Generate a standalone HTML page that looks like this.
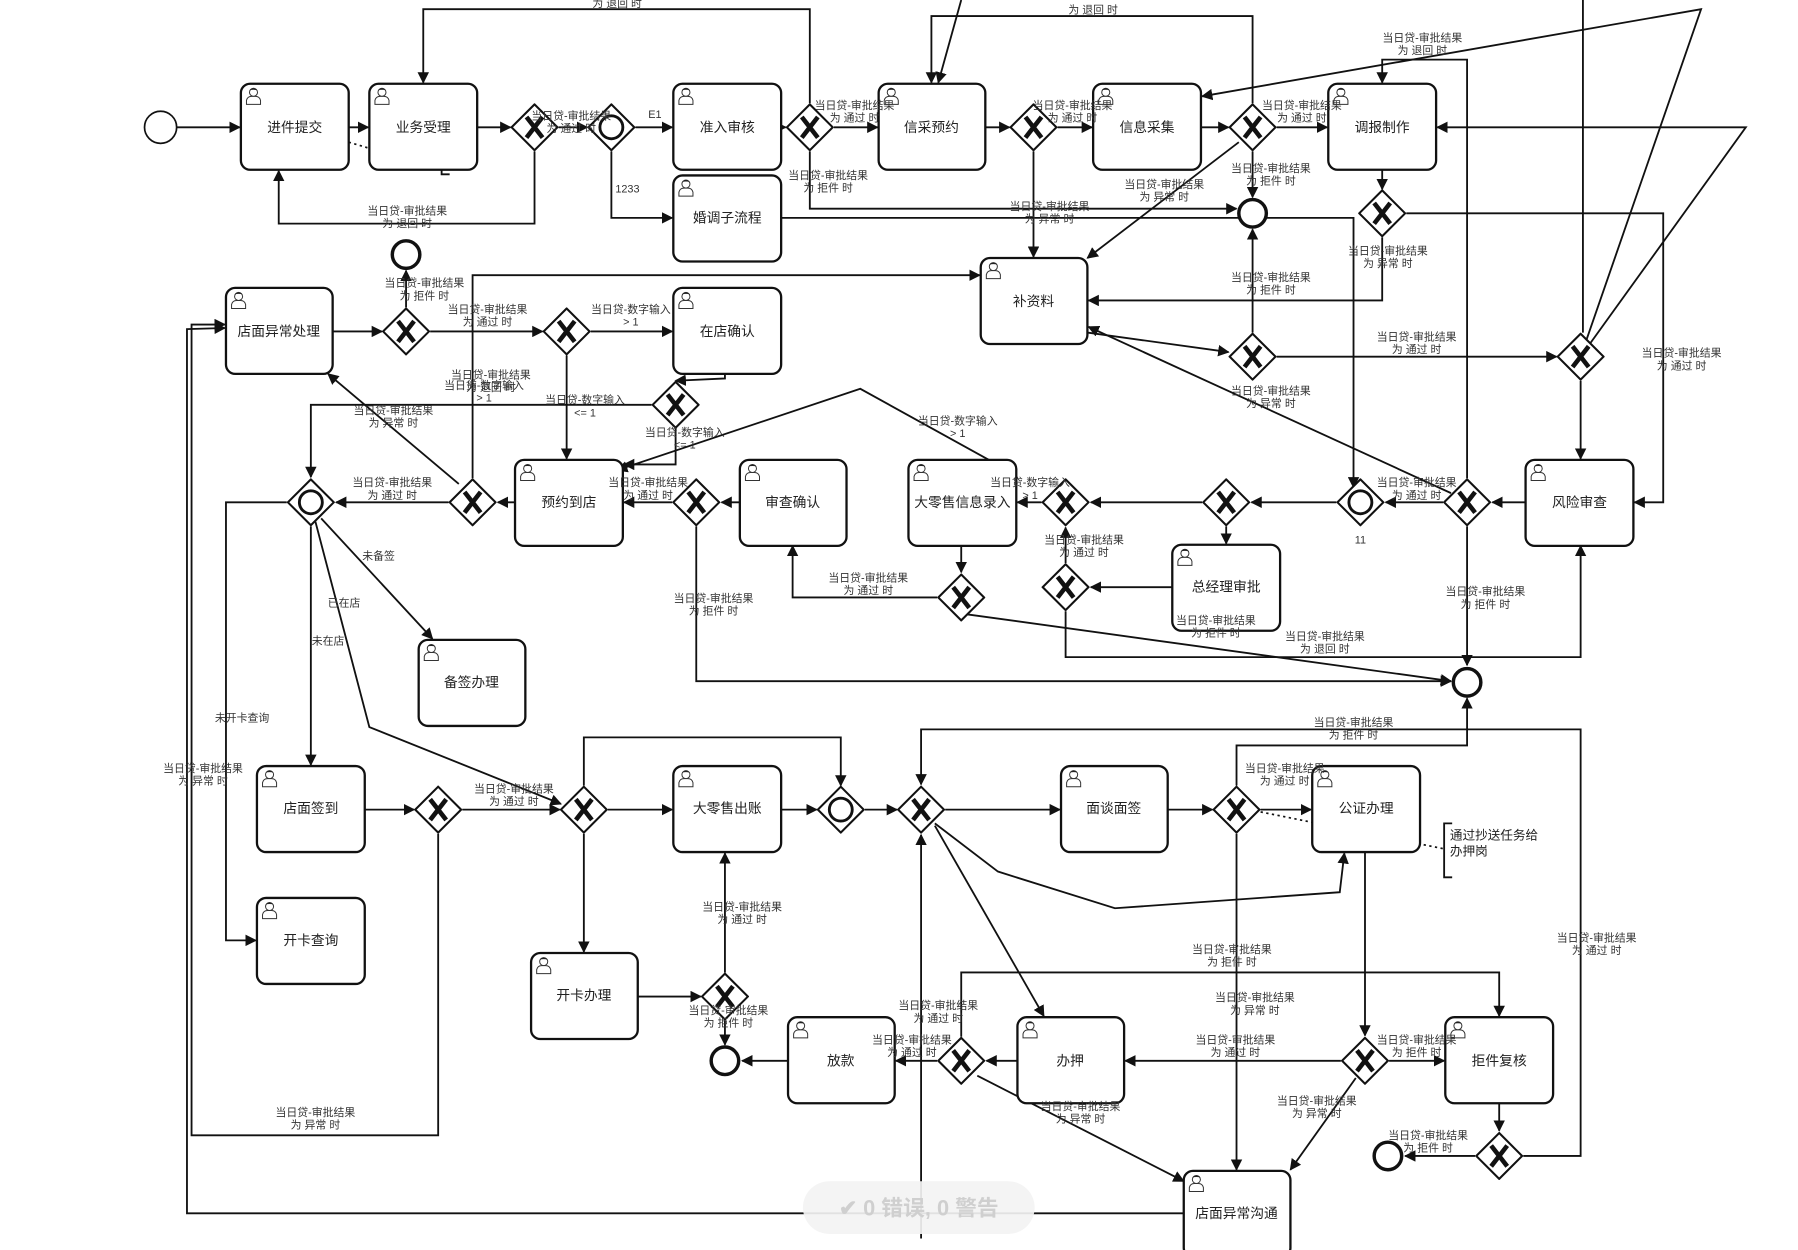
<!DOCTYPE html>
<html><head><meta charset="utf-8"><style>
html,body{margin:0;padding:0;background:#fff;}
svg{display:block;}
text{font-family:"Liberation Sans","Noto Sans CJK SC",sans-serif;fill:#222;}
.t{font-size:12px;text-anchor:middle;}
.l{font-size:9.5px;text-anchor:middle;fill:#333;}
.e{fill:none;stroke:#111;stroke-width:1.6;marker-end:url(#a);}
.n{fill:none;stroke:#111;stroke-width:1.6;}
.task{fill:#fff;stroke:#111;stroke-width:2;}
.gw{fill:#fff;stroke:#111;stroke-width:1.8;}
</style></head><body>
<svg width="1798" height="1250" viewBox="0 0 1567.5 1090" preserveAspectRatio="none" xmlns="http://www.w3.org/2000/svg">
<defs>
<marker id="a" markerWidth="10" markerHeight="10" refX="9" refY="5" orient="auto" markerUnits="userSpaceOnUse"><path d="M0,0 L10,5 L0,10 z" fill="#111"/></marker>
<symbol id="p" viewBox="0 0 16 18"><circle cx="8" cy="5" r="4" fill="#fff" stroke="#333" stroke-width="1"/><path d="M4,3 Q8,-1 12,3 Q8,2 4,3z" fill="#222"/><path d="M1,17 L1,13 Q2,9 6,9 L10,9 Q14,9 15,13 L15,17 z" fill="#fff" stroke="#333" stroke-width="1"/></symbol>
<symbol id="gx" viewBox="-21 -21 42 42"><path d="M0,-20 L20,0 L0,20 L-20,0 z" fill="#fff" stroke="#111" stroke-width="1.8"/><path d="M-7,-9 L7,9 M7,-9 L-7,9" stroke="#111" stroke-width="4"/></symbol>
<symbol id="go" viewBox="-21 -21 42 42"><path d="M0,-20 L20,0 L0,20 L-20,0 z" fill="#fff" stroke="#111" stroke-width="1.8"/><circle r="10" fill="none" stroke="#111" stroke-width="2.5"/></symbol>
</defs>

<g>
<path class="e" d="M154,111 L209,111"/>
<path class="e" d="M304,111 L321,111"/>
<path class="e" d="M416,111 L445,111"/>
<path class="e" d="M487,111 L512,111"/>
<path class="e" d="M466,132 L466,195 L243,195 L243,149"/>
<path d="M304,124 L385,148" stroke="#111" stroke-width="1.5" stroke-dasharray="2,3" fill="none"/>
<path class="n" d="M392,136 L385,136 L385,152 L392,152" />
<path class="e" d="M554,111 L586,111"/>
<path class="e" d="M533,132 L533,190 L586,190"/>
<path class="e" d="M681,111 L685,111"/>
<path class="e" d="M727,111 L765,111"/>
<path class="e" d="M706,90 L706,8 L369,8 L369,72"/>
<path class="e" d="M706,132 L706,182 L1078,182"/>
<path class="e" d="M681,190 L1180,190 L1180,425"/>
<path class="e" d="M859,111 L880,111"/>
<path class="e" d="M922,111 L952,111"/>
<path class="e" d="M901,132 L901,224"/>
<path class="e" d="M1047,111 L1071,111"/>
<path class="e" d="M1113,111 L1157,111"/>
<path class="e" d="M1092,90 L1092,14 L812,14 L812,72"/>
<path class="e" d="M838,0 L818,72"/>
<path class="e" d="M1092,132 L1092,172"/>
<path class="e" d="M1080,124 L948,225"/>
<path class="e" d="M1205,148 L1205,165"/>
<path class="e" d="M1205,207 L1205,262 L949,262"/>
<path class="e" d="M1226,186 L1450,186 L1450,438 L1425,438"/>
<path class="e" d="M1279,417 L1279,52 L1205,52 L1205,72"/>
<path class="n" d="M1380,0 L1380,290"/>
<path class="e" d="M1378,311 L1483,8 L1048,84"/>
<path class="e" d="M1378,311 L1522,111 L1253,111"/>
<path class="e" d="M948,290 L1071,307"/>
<path class="e" d="M1092,290 L1092,200"/>
<path class="e" d="M1113,311 L1357,311"/>
<path class="e" d="M1378,332 L1378,400"/>
<path class="e" d="M1265,430 L949,285"/>
<path class="e" d="M1330,438 L1301,438"/>
<path class="e" d="M1258,438 L1208,438"/>
<path class="e" d="M1165,438 L1091,438"/>
<path class="e" d="M1048,438 L951,438"/>
<path class="e" d="M1069,459 L1069,474"/>
<path class="e" d="M1022,512 L951,512"/>
<path class="e" d="M929,491 L929,460"/>
<path class="e" d="M929,533 L929,573 L1378,573 L1378,476"/>
<path class="e" d="M1279,459 L1279,580"/>
<path class="e" d="M908,438 L887,438"/>
<path class="e" d="M838,475 L838,499"/>
<path class="e" d="M817,521 L691,521 L691,476"/>
<path class="e" d="M838,535 L1265,594"/>
<path class="e" d="M607,459 L607,594 L1265,594"/>
<path class="e" d="M862,401 L750,339 L538,410"/>
<path class="e" d="M645,438 L629,438"/>
<path class="e" d="M586,438 L544,438"/>
<path class="e" d="M632,325 L632,330 L589,332"/>
<path class="e" d="M589,374 L589,405 L544,405"/>
<path class="e" d="M568,353 L271,353 L271,416"/>
<path class="e" d="M290,289 L333,289"/>
<path class="e" d="M354,268 L354,236"/>
<path class="e" d="M375,289 L473,289"/>
<path class="e" d="M515,289 L586,289"/>
<path class="e" d="M494,310 L494,400"/>
<path class="e" d="M449,438 L434,438"/>
<path class="e" d="M391,438 L293,438"/>
<path class="e" d="M412,417 L412,240 L854,240"/>
<path class="e" d="M400,422 L286,326"/>
<path class="e" d="M271,459 L271,667"/>
<path class="e" d="M280,452 L377,557"/>
<path class="e" d="M275,455 L322,634 L489,701"/>
<path class="e" d="M250,438 L197,438 L197,820 L223,820"/>
<path class="e" d="M318,706 L361,706"/>
<path class="e" d="M403,706 L488,706"/>
<path class="e" d="M382,727 L382,990 L167,990 L167,283 L196,283"/>
<path class="e" d="M1032,1058 L163,1058 L163,287 L196,286"/>
<path class="e" d="M530,706 L586,706"/>
<path class="e" d="M509,727 L509,830"/>
<path class="e" d="M509,685 L509,643 L733,643 L733,685"/>
<path class="e" d="M681,706 L712,706"/>
<path class="e" d="M754,706 L782,706"/>
<path class="e" d="M556,869 L611,869"/>
<path class="e" d="M632,848 L632,744"/>
<path class="e" d="M632,890 L632,911"/>
<path class="e" d="M687,925 L647,925"/>
<path class="e" d="M817,925 L781,925"/>
<path class="e" d="M838,904 L838,848 L1307,848 L1307,886"/>
<path class="e" d="M887,925 L860,925"/>
<path class="e" d="M852,938 L1032,1030"/>
<path class="e" d="M824,706 L924,706"/>
<path class="e" d="M803,1080 L803,728"/>
<path class="e" d="M1328,1008 L1378,1008 L1378,636 L803,636 L803,684"/>
<path class="e" d="M815,720 L910,886"/>
<path class="e" d="M815,718 L870,760 L972,792 L1168,778 L1172,744"/>
<path class="e" d="M1018,706 L1057,706"/>
<path class="e" d="M1099,706 L1143,706"/>
<path class="e" d="M1078,685 L1078,650 L1279,650 L1279,609"/>
<path class="e" d="M1078,727 L1078,1020"/>
<path d="M1099,708 L1258,740" stroke="#111" stroke-width="1.5" stroke-dasharray="2,3" fill="none"/>
<path class="n" d="M1266,718 L1259,718 L1259,765 L1266,765"/>
<path class="e" d="M1190,743 L1190,903"/>
<path class="e" d="M1169,925 L981,925"/>
<path class="e" d="M1211,925 L1259,925"/>
<path class="e" d="M1182,940 L1125,1020"/>
<path class="e" d="M1307,962 L1307,986"/>
<path class="e" d="M1286,1008 L1225,1008"/>
</g>

<g>
<rect class="task" x="210" y="73" width="94" height="75" rx="8"/><use href="#p" x="214" y="76" width="14" height="16"/><text class="t" x="257" y="115">进件提交</text>
<rect class="task" x="322" y="73" width="94" height="75" rx="8"/><use href="#p" x="326" y="76" width="14" height="16"/><text class="t" x="369" y="115">业务受理</text>
<rect class="task" x="587" y="73" width="94" height="75" rx="8"/><use href="#p" x="591" y="76" width="14" height="16"/><text class="t" x="634" y="115">准入审核</text>
<rect class="task" x="587" y="153" width="94" height="75" rx="8"/><use href="#p" x="591" y="156" width="14" height="16"/><text class="t" x="634" y="194">婚调子流程</text>
<rect class="task" x="766" y="73" width="93" height="75" rx="8"/><use href="#p" x="770" y="76" width="14" height="16"/><text class="t" x="812" y="115">信采预约</text>
<rect class="task" x="953" y="73" width="94" height="75" rx="8"/><use href="#p" x="957" y="76" width="14" height="16"/><text class="t" x="1000" y="115">信息采集</text>
<rect class="task" x="1158" y="73" width="94" height="75" rx="8"/><use href="#p" x="1162" y="76" width="14" height="16"/><text class="t" x="1205" y="115">调报制作</text>
<rect class="task" x="855" y="225" width="93" height="75" rx="8"/><use href="#p" x="859" y="228" width="14" height="16"/><text class="t" x="901" y="267">补资料</text>
<rect class="task" x="197" y="251" width="93" height="75" rx="8"/><use href="#p" x="201" y="254" width="14" height="16"/><text class="t" x="243" y="293">店面异常处理</text>
<rect class="task" x="587" y="251" width="94" height="75" rx="8"/><use href="#p" x="591" y="254" width="14" height="16"/><text class="t" x="634" y="293">在店确认</text>
<rect class="task" x="449" y="401" width="94" height="75" rx="8"/><use href="#p" x="453" y="404" width="14" height="16"/><text class="t" x="496" y="442">预约到店</text>
<rect class="task" x="645" y="401" width="93" height="75" rx="8"/><use href="#p" x="649" y="404" width="14" height="16"/><text class="t" x="691" y="442">审查确认</text>
<rect class="task" x="792" y="401" width="94" height="75" rx="8"/><use href="#p" x="796" y="404" width="14" height="16"/><text class="t" x="839" y="442">大零售信息录入</text>
<rect class="task" x="1330" y="401" width="94" height="75" rx="8"/><use href="#p" x="1334" y="404" width="14" height="16"/><text class="t" x="1377" y="442">风险审查</text>
<rect class="task" x="1022" y="475" width="94" height="75" rx="8"/><use href="#p" x="1026" y="478" width="14" height="16"/><text class="t" x="1069" y="516">总经理审批</text>
<rect class="task" x="365" y="558" width="93" height="75" rx="8"/><use href="#p" x="369" y="561" width="14" height="16"/><text class="t" x="411" y="599">备签办理</text>
<rect class="task" x="224" y="668" width="94" height="75" rx="8"/><use href="#p" x="228" y="671" width="14" height="16"/><text class="t" x="271" y="709">店面签到</text>
<rect class="task" x="224" y="783" width="94" height="75" rx="8"/><use href="#p" x="228" y="786" width="14" height="16"/><text class="t" x="271" y="824">开卡查询</text>
<rect class="task" x="587" y="668" width="94" height="75" rx="8"/><use href="#p" x="591" y="671" width="14" height="16"/><text class="t" x="634" y="709">大零售出账</text>
<rect class="task" x="925" y="668" width="93" height="75" rx="8"/><use href="#p" x="929" y="671" width="14" height="16"/><text class="t" x="971" y="709">面谈面签</text>
<rect class="task" x="1144" y="668" width="94" height="75" rx="8"/><use href="#p" x="1148" y="671" width="14" height="16"/><text class="t" x="1191" y="709">公证办理</text>
<rect class="task" x="463" y="831" width="93" height="75" rx="8"/><use href="#p" x="467" y="834" width="14" height="16"/><text class="t" x="509" y="872">开卡办理</text>
<rect class="task" x="687" y="887" width="93" height="75" rx="8"/><use href="#p" x="691" y="890" width="14" height="16"/><text class="t" x="733" y="929">放款</text>
<rect class="task" x="887" y="887" width="93" height="75" rx="8"/><use href="#p" x="891" y="890" width="14" height="16"/><text class="t" x="933" y="929">办押</text>
<rect class="task" x="1260" y="887" width="94" height="75" rx="8"/><use href="#p" x="1264" y="890" width="14" height="16"/><text class="t" x="1307" y="929">拒件复核</text>
<rect class="task" x="1032" y="1021" width="93" height="75" rx="8"/><use href="#p" x="1036" y="1024" width="14" height="16"/><text class="t" x="1078" y="1062">店面异常沟通</text>
</g>

<g>
<use href="#gx" x="445" y="90" width="42" height="42"/>
<use href="#go" x="512" y="90" width="42" height="42"/>
<use href="#gx" x="685" y="90" width="42" height="42"/>
<use href="#gx" x="880" y="90" width="42" height="42"/>
<use href="#gx" x="1071" y="90" width="42" height="42"/>
<use href="#gx" x="1184" y="165" width="42" height="42"/>
<use href="#gx" x="333" y="268" width="42" height="42"/>
<use href="#gx" x="473" y="268" width="42" height="42"/>
<use href="#gx" x="568" y="332" width="42" height="42"/>
<use href="#gx" x="391" y="417" width="42" height="42"/>
<use href="#go" x="250" y="417" width="42" height="42"/>
<use href="#gx" x="586" y="417" width="42" height="42"/>
<use href="#gx" x="908" y="417" width="42" height="42"/>
<use href="#gx" x="1048" y="417" width="42" height="42"/>
<use href="#go" x="1165" y="417" width="42" height="42"/>
<use href="#gx" x="1258" y="417" width="42" height="42"/>
<use href="#gx" x="1071" y="290" width="42" height="42"/>
<use href="#gx" x="1357" y="290" width="42" height="42"/>
<use href="#gx" x="817" y="500" width="42" height="42"/>
<use href="#gx" x="908" y="491" width="42" height="42"/>
<use href="#gx" x="361" y="685" width="42" height="42"/>
<use href="#gx" x="488" y="685" width="42" height="42"/>
<use href="#go" x="712" y="685" width="42" height="42"/>
<use href="#gx" x="782" y="685" width="42" height="42"/>
<use href="#gx" x="1057" y="685" width="42" height="42"/>
<use href="#gx" x="611" y="848" width="42" height="42"/>
<use href="#gx" x="817" y="904" width="42" height="42"/>
<use href="#gx" x="1169" y="904" width="42" height="42"/>
<use href="#gx" x="1286" y="987" width="42" height="42"/>
</g>

<g fill="#fff" stroke="#111">
<circle cx="140" cy="111" r="14" stroke-width="1.5"/>
<circle cx="354" cy="222" r="12" stroke-width="3"/>
<circle cx="1092" cy="186" r="12" stroke-width="3"/>
<circle cx="1279" cy="595" r="12" stroke-width="3"/>
<circle cx="632" cy="925" r="12" stroke-width="3"/>
<circle cx="1210" cy="1008" r="12" stroke-width="3"/>
</g>

<g>
<text class="l" x="498" y="104">当日贷-审批结果<tspan x="498" dy="11">为 通过 时</tspan></text>
<text class="l" x="355" y="187">当日贷-审批结果<tspan x="355" dy="11">为 退回 时</tspan></text>
<text class="l" x="538" y="6">为 退回 时</text>
<text class="l" x="571" y="103">E1</text>
<text class="l" x="547" y="168">1233</text>
<text class="l" x="745" y="95">当日贷-审批结果<tspan x="745" dy="11">为 通过 时</tspan></text>
<text class="l" x="722" y="156">当日贷-审批结果<tspan x="722" dy="11">为 拒件 时</tspan></text>
<text class="l" x="935" y="95">当日贷-审批结果<tspan x="935" dy="11">为 通过 时</tspan></text>
<text class="l" x="953" y="12">为 退回 时</text>
<text class="l" x="915" y="183">当日贷-审批结果<tspan x="915" dy="11">为 异常 时</tspan></text>
<text class="l" x="1135" y="95">当日贷-审批结果<tspan x="1135" dy="11">为 通过 时</tspan></text>
<text class="l" x="1240" y="36">当日贷-审批结果<tspan x="1240" dy="11">为 退回 时</tspan></text>
<text class="l" x="1015" y="164">当日贷-审批结果<tspan x="1015" dy="11">为 异常 时</tspan></text>
<text class="l" x="1108" y="150">当日贷-审批结果<tspan x="1108" dy="11">为 拒件 时</tspan></text>
<text class="l" x="1210" y="222">当日贷-审批结果<tspan x="1210" dy="11">为 异常 时</tspan></text>
<text class="l" x="1108" y="245">当日贷-审批结果<tspan x="1108" dy="11">为 拒件 时</tspan></text>
<text class="l" x="1235" y="297">当日贷-审批结果<tspan x="1235" dy="11">为 通过 时</tspan></text>
<text class="l" x="1466" y="311">当日贷-审批结果<tspan x="1466" dy="11">为 通过 时</tspan></text>
<text class="l" x="1108" y="344">当日贷-审批结果<tspan x="1108" dy="11">为 异常 时</tspan></text>
<text class="l" x="1235" y="424">当日贷-审批结果<tspan x="1235" dy="11">为 通过 时</tspan></text>
<text class="l" x="1186" y="474">11</text>
<text class="l" x="1295" y="519">当日贷-审批结果<tspan x="1295" dy="11">为 拒件 时</tspan></text>
<text class="l" x="898" y="424">当日贷-数字输入<tspan x="898" dy="11">&gt; 1</tspan></text>
<text class="l" x="945" y="474">当日贷-审批结果<tspan x="945" dy="11">为 通过 时</tspan></text>
<text class="l" x="1060" y="544">当日贷-审批结果<tspan x="1060" dy="11">为 拒件 时</tspan></text>
<text class="l" x="1155" y="558">当日贷-审批结果<tspan x="1155" dy="11">为 退回 时</tspan></text>
<text class="l" x="757" y="507">当日贷-审批结果<tspan x="757" dy="11">为 通过 时</tspan></text>
<text class="l" x="622" y="525">当日贷-审批结果<tspan x="622" dy="11">为 拒件 时</tspan></text>
<text class="l" x="835" y="370">当日贷-数字输入<tspan x="835" dy="11">&gt; 1</tspan></text>
<text class="l" x="565" y="424">当日贷-审批结果<tspan x="565" dy="11">为 通过 时</tspan></text>
<text class="l" x="597" y="380">当日贷-数字输入<tspan x="597" dy="11">&lt;= 1</tspan></text>
<text class="l" x="510" y="352">当日贷-数字输入<tspan x="510" dy="11">&lt;= 1</tspan></text>
<text class="l" x="370" y="250">当日贷-审批结果<tspan x="370" dy="11">为 拒件 时</tspan></text>
<text class="l" x="425" y="273">当日贷-审批结果<tspan x="425" dy="11">为 通过 时</tspan></text>
<text class="l" x="550" y="273">当日贷-数字输入<tspan x="550" dy="11">&gt; 1</tspan></text>
<text class="l" x="428" y="330">当日贷-审批结果<tspan x="428" dy="11">为 退回 时</tspan></text>
<text class="l" x="422" y="339">当日贷-数字输入<tspan x="422" dy="11">&gt; 1</tspan></text>
<text class="l" x="343" y="361">当日贷-审批结果<tspan x="343" dy="11">为 异常 时</tspan></text>
<text class="l" x="342" y="424">当日贷-审批结果<tspan x="342" dy="11">为 通过 时</tspan></text>
<text class="l" x="330" y="488">未备签</text>
<text class="l" x="300" y="529">已在店</text>
<text class="l" x="286" y="562">未在店</text>
<text class="l" x="211" y="629">未开卡查询</text>
<text class="l" x="177" y="673">当日贷-审批结果<tspan x="177" dy="11">为 异常 时</tspan></text>
<text class="l" x="448" y="691">当日贷-审批结果<tspan x="448" dy="11">为 通过 时</tspan></text>
<text class="l" x="275" y="973">当日贷-审批结果<tspan x="275" dy="11">为 异常 时</tspan></text>
<text class="l" x="647" y="794">当日贷-审批结果<tspan x="647" dy="11">为 通过 时</tspan></text>
<text class="l" x="635" y="884">当日贷-审批结果<tspan x="635" dy="11">为 拒件 时</tspan></text>
<text class="l" x="818" y="880">当日贷-审批结果<tspan x="818" dy="11">为 通过 时</tspan></text>
<text class="l" x="795" y="910">当日贷-审批结果<tspan x="795" dy="11">为 通过 时</tspan></text>
<text class="l" x="942" y="968">当日贷-审批结果<tspan x="942" dy="11">为 异常 时</tspan></text>
<text class="l" x="1074" y="831">当日贷-审批结果<tspan x="1074" dy="11">为 拒件 时</tspan></text>
<text class="l" x="1094" y="873">当日贷-审批结果<tspan x="1094" dy="11">为 异常 时</tspan></text>
<text class="l" x="1180" y="633">当日贷-审批结果<tspan x="1180" dy="11">为 拒件 时</tspan></text>
<text class="l" x="1120" y="673">当日贷-审批结果<tspan x="1120" dy="11">为 通过 时</tspan></text>
<text class="l" x="1392" y="821">当日贷-审批结果<tspan x="1392" dy="11">为 通过 时</tspan></text>
<text class="l" x="1077" y="910">当日贷-审批结果<tspan x="1077" dy="11">为 通过 时</tspan></text>
<text class="l" x="1235" y="910">当日贷-审批结果<tspan x="1235" dy="11">为 拒件 时</tspan></text>
<text class="l" x="1148" y="963">当日贷-审批结果<tspan x="1148" dy="11">为 异常 时</tspan></text>
<text class="l" x="1245" y="993">当日贷-审批结果<tspan x="1245" dy="11">为 拒件 时</tspan></text>
<text x="1264" y="732" style="font-size:11px">通过抄送任务给<tspan x="1264" dy="14">办押岗</tspan></text>
</g>

<rect x="700" y="1030" width="202" height="46" rx="23" fill="#f3f3f3" opacity="0.92"/>
<text x="801" y="1060" style="font-size:19px;text-anchor:middle;fill:#cfcfcf;font-weight:bold">✔  0 错误, 0 警告</text>
</svg>
</body></html>
